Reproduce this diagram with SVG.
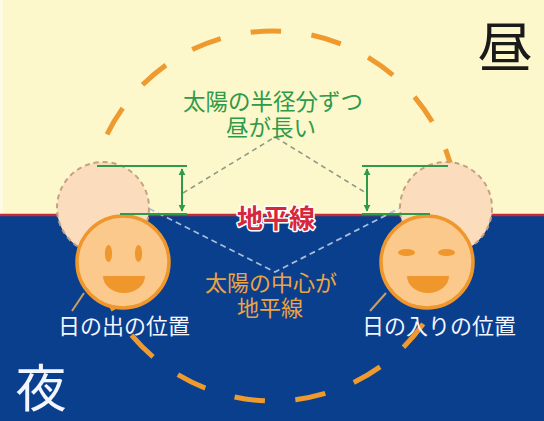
<svg xmlns="http://www.w3.org/2000/svg" width="544" height="421" viewBox="0 0 544 421">
  <defs>
    <style>
      .jp { font-family: "Liberation Sans", "Noto Sans CJK JP", sans-serif; text-anchor: middle; }
      .path-arc { fill: none; stroke: #ef9a2e; stroke-width: 5; stroke-dasharray: 30 30; stroke-dashoffset: 22; }
      .ghost { fill: #fbdcbd; stroke: #c4a27e; stroke-width: 2; stroke-dasharray: 5 4; }
      .sun { fill: #fbc98c; stroke: #ef962c; stroke-width: 3.5; }
      .feature { fill: #ef962c; }
      .guide { stroke: #2f9a4a; stroke-width: 2; fill: none; }
      .dash-up { stroke: #8e9a84; stroke-width: 1.6; stroke-dasharray: 5 4; fill: none; }
      .dash-down { stroke: #a9bcd8; stroke-width: 1.8; stroke-dasharray: 6 4; fill: none; }
      .leader { stroke: #c9a064; stroke-width: 2; fill: none; }
    </style>
    <marker id="head" viewBox="0 0 10 10" refX="9" refY="5" markerWidth="3.6" markerHeight="3.6" orient="auto-start-reverse">
      <path d="M0,0 L10,5 L0,10 Z" fill="#2f9a4a"/>
    </marker>
  </defs>

  <!-- day sky and night ground -->
  <rect x="0" y="0" width="544" height="216" fill="#fdf8cb"/>
  <rect x="0" y="216" width="544" height="205" fill="#0a3f8e"/>
  <rect x="0" y="0" width="3" height="216" fill="#fdfbe4"/>
  <line x1="0" y1="215" x2="544" y2="215" stroke="#c42a3a" stroke-width="2.5"/>

  <!-- the sun's daily path -->
  <circle class="path-arc" cx="273" cy="216" r="185" pathLength="1140" transform="rotate(-90 273 216)"/>

  <g id="connectors">
    <path class="dash-up" d="M183,193 L275,137 L366,193"/>
    <path class="dash-down" d="M140,204 L275,272 L408,204"/>
    <line class="leader" x1="84" y1="293" x2="72" y2="311"/>
    <line class="leader" x1="386" y1="293" x2="370" y2="311"/>
  </g>

  <!-- sunrise: upper edge on the horizon vs. centre on the horizon -->
  <g id="sunrise">
    <circle class="ghost" cx="103" cy="208" r="46"/>
    <circle class="sun" cx="123" cy="262" r="46"/>
    <ellipse class="feature" cx="108.5" cy="253.5" rx="3.6" ry="8.5"/>
    <ellipse class="feature" cx="138.5" cy="253.5" rx="3.6" ry="8.5"/>
    <path class="feature" d="M103,276 L145,276 A21,17 0 0 1 103,276 Z"/>
    <line class="guide" x1="97" y1="166" x2="187" y2="166"/>
    <line class="guide" x1="120" y1="214" x2="187" y2="214"/>
    <line class="guide" x1="182" y1="169" x2="182" y2="211" stroke-width="2.5" marker-start="url(#head)" marker-end="url(#head)"/>
  </g>

  <!-- sunset -->
  <g id="sunset">
    <circle class="ghost" cx="446" cy="208" r="46"/>
    <circle class="sun" cx="427" cy="262" r="46"/>
    <ellipse class="feature" cx="406.5" cy="252.5" rx="8.5" ry="3.6"/>
    <ellipse class="feature" cx="446.5" cy="252.5" rx="8.5" ry="3.6"/>
    <path class="feature" d="M407,276 L449,276 A21,17 0 0 1 407,276 Z"/>
    <line class="guide" x1="362" y1="166" x2="448" y2="166"/>
    <line class="guide" x1="362" y1="214" x2="430" y2="214"/>
    <line class="guide" x1="367" y1="169" x2="367" y2="211" stroke-width="2.5" marker-start="url(#head)" marker-end="url(#head)"/>
  </g>

  <g id="labels">
    <text class="jp" x="273" y="110" font-size="22.5" fill="#2f9a4a">太陽の半径分ずつ</text>
    <text class="jp" x="271" y="136" font-size="22.5" fill="#2f9a4a">昼が長い</text>
    <text class="jp" x="276" y="228" font-size="26" font-weight="bold" fill="#d6283c" stroke="#ffffff" stroke-width="3" paint-order="stroke" stroke-linejoin="round">地平線</text>
    <text class="jp" x="271" y="291" font-size="22" fill="#eea43e">太陽の中心が</text>
    <text class="jp" x="270" y="316" font-size="22" fill="#eea43e">地平線</text>
    <text class="jp" x="124" y="334" font-size="22" fill="#f2f5ff">日の出の位置</text>
    <text class="jp" x="439" y="334" font-size="22" fill="#f2f5ff">日の入りの位置</text>
    <text class="jp" x="505" y="67" font-size="55" fill="#1a1a1a">昼</text>
    <text class="jp" x="41" y="407" font-size="51" fill="#f4f6ff">夜</text>
  </g>
</svg>
